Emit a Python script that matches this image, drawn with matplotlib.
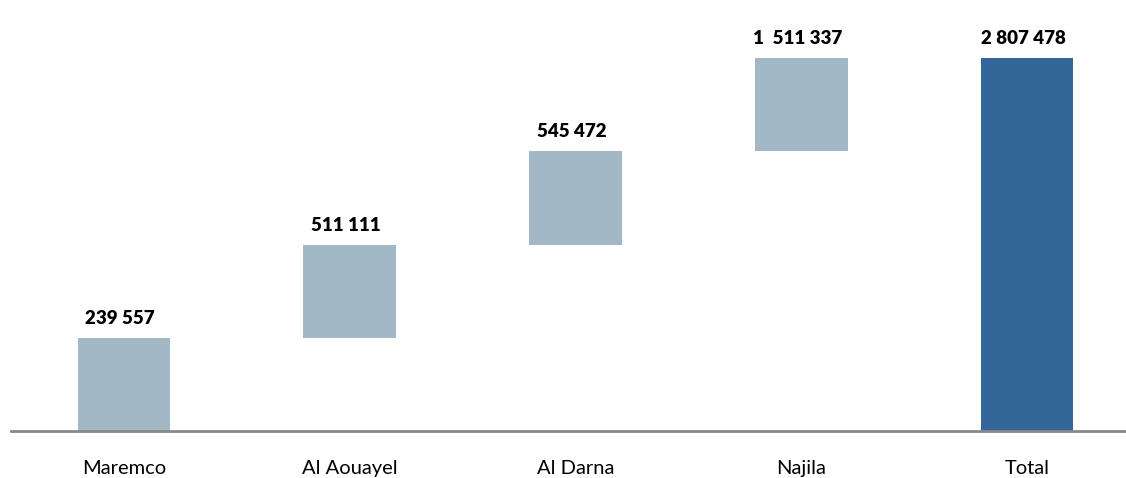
import matplotlib
matplotlib.use("Agg")
import matplotlib.pyplot as plt

categories = ["Maremco", "Al Aouayel", "Al Darna", "Najila", "Total"]
value_labels = ["239 557", "511 111", "545 472", "1  511 337", "2 807 478"]
# drawn step heights (equal visual steps, total = 1)
step_heights = [0.25, 0.25, 0.25, 0.25]

light = "#A3B8C6"
dark = "#336699"

plt.rcParams["font.family"] = ["Lato", "DejaVu Sans"]

fig = plt.figure(figsize=(11.26, 4.78), dpi=100)
ax = fig.add_axes([11 / 1126, 47 / 478, 1 - 11 / 1126, 431 / 478])

bottoms = []
acc = 0.0
for h in step_heights:
    bottoms.append(acc)
    acc += h
heights = step_heights + [acc]
bottoms = bottoms + [0.0]
colors = [light] * len(step_heights) + [dark]

x = list(range(len(categories)))
ax.bar(x, heights, bottom=bottoms, width=0.41, color=colors, linewidth=0)

for xi, b, h, lab in zip(x, bottoms, heights, value_labels):
    ax.annotate(lab, (xi, b + h), xytext=(-3, 10), textcoords="offset points",
                ha="center", va="baseline", fontsize=13.5, fontweight="heavy",
                color="black")

ax.set_xlim(-0.5, 4.5 - 14 / 225.5)
ax.set_ylim(0, acc * 431 / 373)
ax.set_xticks(x)
ax.set_xticklabels(categories, fontsize=14.5)
ax.tick_params(axis="x", length=0, pad=21)
ax.set_yticks([])
for s in ["top", "right", "left"]:
    ax.spines[s].set_visible(False)
ax.spines["bottom"].set_color("#898989")
ax.spines["bottom"].set_linewidth(2)
ax.patch.set_alpha(0)

fig.savefig("out.png", dpi=100)
